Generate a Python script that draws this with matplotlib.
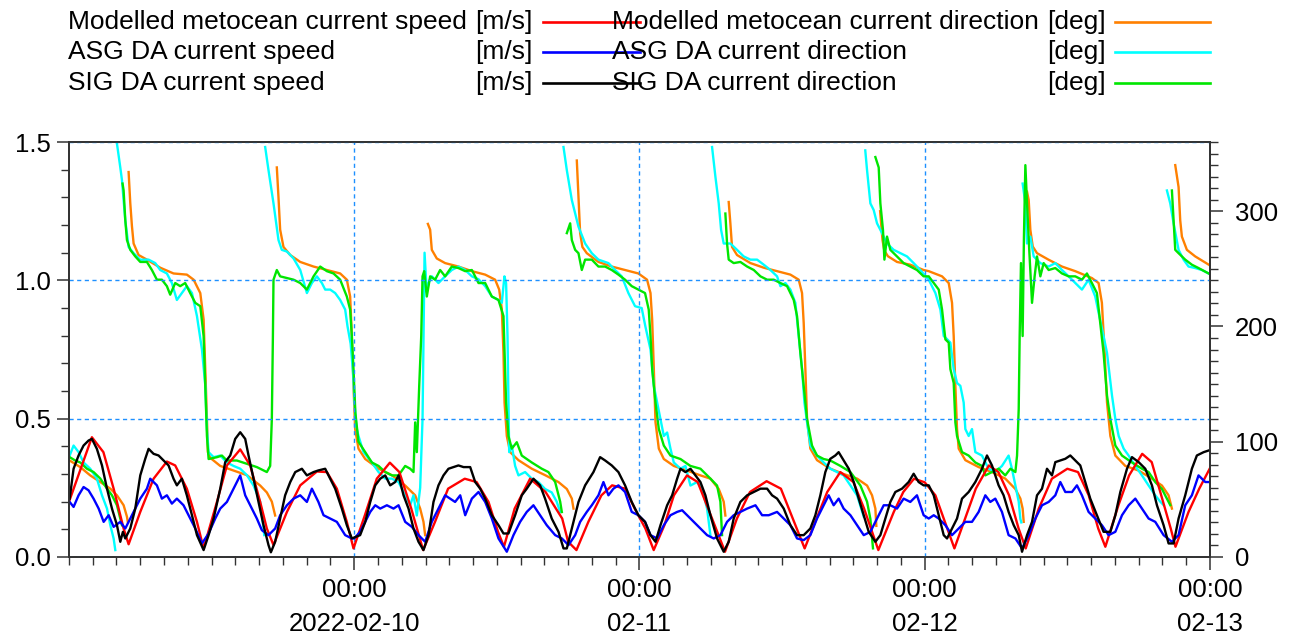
import numpy as np
import pandas as pd
import matplotlib
matplotlib.use("Agg")
import matplotlib.pyplot as plt
import matplotlib.dates as mdates
from matplotlib.lines import Line2D
from matplotlib.ticker import MultipleLocator

nan = np.nan
start = pd.Timestamp("2022-02-09 00:00")

# (hours after 2022-02-09 00:00, value); nan rows break the line where direction wraps
model_speed = [
    (0.05, 0.205), (1.93, 0.433), (2.9, 0.379), (3.76, 0.247), (4.6, 0.103), (5.02, 0.046), (6.0, 0.163),
    (7.12, 0.283), (8.24, 0.345), (8.94, 0.331), (9.92, 0.247), (10.77, 0.127), (11.33, 0.031), (12.45, 0.199),
    (13.29, 0.331), (14.41, 0.389), (15.25, 0.331), (16.09, 0.199), (16.65, 0.103), (17.21, 0.043), (18.34, 0.163),
    (19.46, 0.259), (20.86, 0.309), (21.7, 0.307), (22.54, 0.247), (23.38, 0.127), (23.94, 0.031),
    (24.9, 0.151), (25.9, 0.283), (27.0, 0.341), (27.8, 0.307), (28.8, 0.175), (29.8, 0.025), (30.8, 0.127),
    (31.9, 0.247), (33.3, 0.283), (34.3, 0.271), (35.3, 0.199), (36.1, 0.091), (36.6, 0.037), (37.5, 0.175),
    (38.8, 0.283), (40.1, 0.235), (41.5, 0.139), (42.0, 0.055), (42.7, 0.025), (43.7, 0.127), (44.8, 0.223),
    (45.7, 0.259), (46.8, 0.247), (47.6, 0.175), (48.5, 0.103),
    (49.2, 0.025), (50.1, 0.115), (50.9, 0.223), (52.0, 0.295), (52.9, 0.271), (54.0, 0.151), (55.2, 0.019),
    (56.2, 0.139), (57.3, 0.235), (58.7, 0.274), (59.9, 0.247), (60.9, 0.139), (61.9, 0.031), (62.9, 0.139),
    (63.8, 0.235), (64.9, 0.307), (66.0, 0.271), (66.9, 0.175), (68.1, 0.025), (69.4, 0.163), (70.2, 0.235),
    (71.1, 0.283),
    (72.0, 0.27), (72.9, 0.223), (73.7, 0.127), (74.5, 0.031), (75.4, 0.139), (76.3, 0.247), (77.4, 0.331),
    (78.2, 0.307), (79.1, 0.223), (79.9, 0.103), (80.5, 0.031), (81.6, 0.175), (82.7, 0.283), (84.0, 0.319),
    (84.9, 0.307), (85.8, 0.223), (86.6, 0.103), (87.2, 0.037), (88.3, 0.187), (89.2, 0.295), (90.3, 0.373),
    (91.1, 0.343), (91.9, 0.223), (92.7, 0.103), (93.1, 0.037), (94.2, 0.163), (95.1, 0.247), (96.0, 0.321),
]

asg_speed = [
    (0.06, 0.199), (0.39, 0.181), (0.81, 0.223), (1.23, 0.253), (1.65, 0.241), (2.07, 0.211), (2.5, 0.175),
    (2.92, 0.127), (3.34, 0.151), (3.76, 0.109), (4.32, 0.127), (4.74, 0.103), (5.3, 0.151), (6.0, 0.211),
    (6.56, 0.247), (6.84, 0.283), (7.4, 0.259), (7.82, 0.211), (8.24, 0.223), (8.66, 0.193), (9.08, 0.211),
    (9.64, 0.187), (10.06, 0.151), (10.63, 0.103), (11.19, 0.049), (11.75, 0.085), (12.31, 0.139), (12.73, 0.175),
    (13.29, 0.199), (13.85, 0.247), (14.41, 0.295), (14.83, 0.223), (15.25, 0.187), (15.81, 0.139), (16.23, 0.097),
    (16.79, 0.079), (17.35, 0.103), (17.77, 0.151), (18.34, 0.187), (18.9, 0.211), (19.46, 0.223), (20.02, 0.199),
    (20.44, 0.247), (20.99, 0.199), (21.42, 0.151), (21.98, 0.139), (22.54, 0.127), (23.24, 0.079), (23.8, 0.067),
    (24.0, 0.067), (24.5, 0.091), (24.93, 0.127), (25.35, 0.163), (25.77, 0.187), (26.19, 0.175), (26.75, 0.187),
    (27.31, 0.175), (27.73, 0.187), (28.29, 0.127), (28.85, 0.109), (29.41, 0.079), (29.97, 0.055), (30.53, 0.127),
    (31.09, 0.175), (31.65, 0.223), (32.07, 0.211), (32.49, 0.199), (32.92, 0.223), (33.34, 0.151), (33.9, 0.211),
    (34.46, 0.235), (35.02, 0.199), (35.58, 0.139), (36.14, 0.067), (36.84, 0.019), (37.4, 0.079), (37.96, 0.127),
    (38.52, 0.163), (39.08, 0.187), (39.64, 0.151), (40.2, 0.115), (40.91, 0.079), (41.47, 0.067), (42.03, 0.043),
    (42.59, 0.079), (43.01, 0.127), (43.57, 0.163), (43.99, 0.187), (44.55, 0.223), (44.97, 0.271), (45.39, 0.223),
    (45.81, 0.247), (46.23, 0.259), (46.79, 0.235), (47.35, 0.163), (47.91, 0.151), (48.47, 0.127),
    (48.93, 0.079), (49.49, 0.067), (50.05, 0.115), (50.61, 0.151), (51.17, 0.163), (51.59, 0.169), (52.01, 0.151),
    (52.57, 0.127), (53.13, 0.103), (53.69, 0.079), (54.25, 0.067), (54.81, 0.079), (55.37, 0.127), (55.93, 0.151),
    (56.49, 0.163), (57.06, 0.175), (57.76, 0.187), (58.32, 0.151), (58.88, 0.151), (59.58, 0.163), (60.14, 0.139),
    (60.7, 0.115), (61.26, 0.067), (61.82, 0.061), (62.38, 0.079), (62.94, 0.139), (63.5, 0.187), (63.92, 0.223),
    (64.34, 0.187), (64.76, 0.211), (65.18, 0.175), (65.75, 0.151), (66.31, 0.115), (66.87, 0.079), (67.43, 0.091),
    (67.99, 0.139), (68.55, 0.187), (69.11, 0.187), (69.67, 0.175), (70.23, 0.211), (70.79, 0.199), (71.35, 0.223),
    (71.91, 0.151),
    (72.34, 0.139), (72.76, 0.151), (73.18, 0.139), (73.74, 0.115), (74.3, 0.079), (74.86, 0.103), (75.42, 0.127),
    (75.98, 0.127), (76.54, 0.163), (77.1, 0.223), (77.52, 0.199), (77.94, 0.211), (78.5, 0.163), (79.06, 0.079),
    (79.63, 0.067), (80.19, 0.031), (80.75, 0.079), (81.31, 0.139), (81.87, 0.187), (82.43, 0.199), (82.99, 0.223),
    (83.41, 0.271), (83.83, 0.235), (84.39, 0.235), (84.81, 0.259), (85.23, 0.223), (85.79, 0.163), (86.35, 0.139),
    (86.91, 0.115), (87.47, 0.079), (88.04, 0.091), (88.6, 0.151), (89.16, 0.187), (89.72, 0.211), (90.28, 0.175),
    (90.84, 0.139), (91.4, 0.127), (92.1, 0.079), (92.8, 0.055), (93.36, 0.079), (93.92, 0.187), (94.48, 0.223),
    (95.04, 0.295), (95.61, 0.271), (95.89, 0.271),
]

sig_speed = [
    (0.06, 0.211), (0.39, 0.319), (0.81, 0.367), (1.23, 0.403), (1.65, 0.421), (1.93, 0.427), (2.35, 0.391),
    (2.78, 0.331), (3.2, 0.247), (3.62, 0.175), (4.04, 0.115), (4.32, 0.055), (4.54, 0.091), (4.74, 0.067),
    (5.16, 0.103), (5.58, 0.175), (6.0, 0.295), (6.42, 0.355), (6.7, 0.391), (7.12, 0.373), (7.54, 0.367),
    (7.96, 0.349), (8.38, 0.331), (8.8, 0.283), (9.08, 0.259), (9.5, 0.283), (9.92, 0.223), (10.35, 0.151),
    (10.77, 0.079), (11.33, 0.025), (11.75, 0.079), (12.17, 0.139), (12.73, 0.247), (13.15, 0.343), (13.57, 0.367),
    (13.99, 0.427), (14.41, 0.451), (14.83, 0.427), (15.11, 0.367), (15.53, 0.283), (15.95, 0.199), (16.37, 0.115),
    (16.79, 0.043), (16.99, 0.017), (17.35, 0.055), (17.77, 0.139), (18.19, 0.223), (18.62, 0.271), (19.04, 0.307),
    (19.6, 0.319), (20.02, 0.295), (20.58, 0.307), (20.99, 0.313), (21.56, 0.319), (21.98, 0.283), (22.4, 0.247),
    (22.96, 0.175), (23.38, 0.115), (23.8, 0.067),
    (24.5, 0.079), (24.93, 0.127), (25.35, 0.199), (25.77, 0.259), (26.19, 0.283), (26.61, 0.295), (27.03, 0.259),
    (27.45, 0.271), (27.73, 0.295), (28.15, 0.223), (28.57, 0.175), (28.99, 0.103), (29.41, 0.055), (29.83, 0.025),
    (30.25, 0.079), (30.67, 0.199), (31.09, 0.259), (31.51, 0.295), (31.93, 0.319), (32.35, 0.325), (32.77, 0.331),
    (33.2, 0.325), (33.76, 0.325), (34.18, 0.271), (34.6, 0.247), (35.02, 0.211), (35.58, 0.151), (36.14, 0.115),
    (36.56, 0.085), (36.98, 0.085), (37.54, 0.151), (38.1, 0.223), (38.52, 0.247), (39.08, 0.283), (39.64, 0.259),
    (40.06, 0.211), (40.62, 0.139), (41.19, 0.091), (41.61, 0.031), (41.89, 0.031), (42.31, 0.103), (42.87, 0.199),
    (43.43, 0.259), (44.13, 0.307), (44.69, 0.361), (45.11, 0.349), (45.67, 0.331), (46.23, 0.307), (46.79, 0.259),
    (47.35, 0.199), (47.91, 0.151), (48.47, 0.127),
    (48.93, 0.079), (49.35, 0.055), (49.77, 0.115), (50.33, 0.187), (50.75, 0.223), (51.17, 0.283), (51.45, 0.319),
    (51.87, 0.307), (52.29, 0.319), (52.71, 0.295), (53.13, 0.271), (53.55, 0.223), (53.97, 0.151), (54.53, 0.067),
    (55.09, 0.019), (55.51, 0.055), (55.93, 0.139), (56.49, 0.199), (57.06, 0.223), (57.62, 0.235), (58.18, 0.247),
    (58.74, 0.247), (59.16, 0.223), (59.58, 0.211), (60.14, 0.175), (60.7, 0.115), (61.26, 0.079), (61.82, 0.079),
    (62.38, 0.103), (62.8, 0.151), (63.22, 0.223), (63.64, 0.307), (64.06, 0.355), (64.48, 0.367), (64.76, 0.379),
    (65.18, 0.349), (65.61, 0.319), (66.03, 0.271), (66.45, 0.211), (66.87, 0.151), (67.29, 0.091), (67.85, 0.055),
    (68.27, 0.079), (68.69, 0.139), (69.11, 0.199), (69.53, 0.235), (70.09, 0.247), (70.65, 0.271), (71.07, 0.301),
    (71.49, 0.271), (71.91, 0.259),
    (72.34, 0.259), (72.76, 0.223), (73.18, 0.151), (73.6, 0.079), (73.88, 0.067), (74.3, 0.103), (74.72, 0.139),
    (75.14, 0.211), (75.7, 0.235), (76.26, 0.271), (76.82, 0.319), (77.24, 0.367), (77.66, 0.331), (78.22, 0.259),
    (78.64, 0.223), (79.06, 0.163), (79.49, 0.115), (79.91, 0.079), (80.19, 0.019), (80.61, 0.079), (81.03, 0.127),
    (81.45, 0.223), (81.87, 0.247), (82.29, 0.319), (82.71, 0.295), (82.99, 0.343), (83.41, 0.349), (83.83, 0.355),
    (84.25, 0.367), (84.67, 0.349), (85.09, 0.331), (85.51, 0.271), (85.93, 0.211), (86.49, 0.151), (87.05, 0.091),
    (87.62, 0.091), (88.04, 0.151), (88.46, 0.235), (89.02, 0.319), (89.44, 0.361), (90.0, 0.343), (90.56, 0.319),
    (91.12, 0.259), (91.54, 0.187), (92.1, 0.115), (92.52, 0.049), (92.94, 0.049), (93.36, 0.139), (93.92, 0.223),
    (94.48, 0.319), (94.9, 0.367), (95.47, 0.379), (95.89, 0.385),
]

model_dir = [
    (0.06, 83.7), (0.95, 78), (1.79, 70.8), (2.64, 65), (3.48, 59.3), (4.04, 53.5), (4.6, 44.9), (4.88, 35), (4.96, 30),
    (4.99, nan),
    (5.02, 334), (5.16, 307), (5.3, 287), (5.44, 272), (5.86, 262), (6.56, 258), (7.68, 251), (8.8, 246), (9.92, 245),
    (10.49, 240.6), (11.05, 229), (11.33, 206), (11.47, 163), (11.61, 120), (11.69, 91), (11.89, 86), (12.73, 79),
    (13.85, 75), (14.97, 71), (16.09, 62), (16.65, 56), (17.07, 48), (17.35, 36),
    (17.42, nan),
    (17.49, 338), (17.63, 312), (17.77, 284), (18.05, 269), (18.62, 262), (19.46, 256), (20.58, 252), (21.7, 249),
    (22.82, 246), (23.38, 240.6), (23.66, 226), (23.8, 192), (23.94, 149), (24.08, 111), (24.36, 94), (24.93, 85),
    (26.05, 76.6), (27.17, 71), (28.29, 62), (29.13, 53.5), (29.55, 42), (29.83, 30.5), (29.97, 19),
    (30.1, nan),
    (30.2, 289), (30.39, 284), (30.53, 266.5), (30.95, 259), (31.65, 255), (32.77, 252), (33.9, 248), (35.02, 245),
    (35.86, 240.6), (36.2, 232), (36.42, 215), (36.56, 177), (36.65, 134), (36.84, 105), (37.12, 91), (37.82, 84),
    (38.94, 76.6), (40.06, 71), (41.19, 65), (41.89, 59), (42.31, 50.7), (42.45, 42),
    (42.6, nan),
    (42.73, 344), (42.87, 312.5), (43.01, 281), (43.2, 269), (43.57, 263.6), (44.55, 256), (45.67, 252), (46.79, 249),
    (47.91, 246), (48.64, 240.6), (48.93, 229), (49.07, 206), (49.21, 163), (49.35, 117), (49.63, 94), (50.05, 85),
    (50.89, 79), (52.01, 75), (53.13, 70.8), (53.97, 68), (54.67, 59), (55.09, 48), (55.23, 36),
    (55.4, nan),
    (55.51, 308), (55.65, 289.5), (55.79, 269), (56.21, 262), (57.34, 255), (58.46, 251), (59.58, 248), (60.7, 245),
    (61.4, 240.6), (61.68, 229), (61.82, 203), (61.96, 163), (62.1, 120), (62.38, 94), (62.94, 84), (64.06, 76.6),
    (65.18, 72), (66.31, 68), (67.15, 62), (67.57, 53.5), (67.85, 42), (67.93, 27),
    (68.1, nan),
    (68.25, 300), (68.45, 275), (68.6, 266), (68.9, 261), (69.67, 256), (70.79, 253.6), (71.91, 249), (72.34, 248),
    (73.46, 243.5), (74.02, 237.7), (74.3, 220.5), (74.44, 191.7), (74.58, 148.5), (74.72, 111), (74.86, 94),
    (75.42, 84), (76.54, 78), (77.66, 73.7), (78.78, 68), (79.63, 59), (80.05, 50.7), (80.24, 42), (80.33, 30.5),
    (80.5, nan),
    (80.61, 317), (80.75, 309.7), (80.89, 283.8), (81.09, 269.4), (81.45, 263.6), (82.43, 257.9), (83.55, 252),
    (84.67, 248), (86.07, 242), (86.63, 237.7), (86.91, 220.5), (87.14, 177), (87.34, 134), (87.62, 105), (88.04, 88),
    (88.88, 79), (90.0, 75), (91.12, 68), (91.96, 62), (92.52, 53.5), (92.8, 42),
    (92.95, nan),
    (93.08, 340), (93.36, 321), (93.5, 292), (93.64, 278), (94.06, 266.5), (94.76, 260.8), (95.89, 253.6), (96.0, 253),
]

asg_dir = [
    (0.06, 88), (0.39, 96.7), (0.81, 91), (1.23, 82), (1.79, 76.6), (2.35, 68), (2.78, 53.5), (3.2, 42), (3.48, 27.6),
    (3.76, 16), (3.9, 6),
    (3.97, nan),
    (4.04, 358.6), (4.32, 338), (4.46, 327), (4.74, 292), (5.02, 269), (5.44, 263.6), (6.0, 257.9), (6.7, 258),
    (7.26, 255), (7.68, 249), (8.24, 246), (8.66, 237.7), (9.08, 223), (9.5, 229), (9.92, 235), (10.35, 229),
    (10.77, 209), (11.19, 180), (11.47, 149), (11.61, 111), (11.75, 91), (12.17, 86.6), (12.73, 88), (13.29, 82),
    (13.85, 79), (14.41, 76.6), (14.97, 71), (15.53, 62), (16.09, 48), (16.37, 24.8), (16.43, 19),
    (16.47, nan),
    (16.51, 355.7), (16.79, 335.6), (17.21, 306.8), (17.63, 275), (17.91, 266.5), (18.34, 265), (18.9, 259),
    (19.46, 249), (20.02, 229), (20.44, 237.7), (20.86, 243.5), (21.28, 237.7), (21.56, 232), (21.98, 232),
    (22.4, 229), (22.82, 223), (23.24, 214.7), (23.44, 200), (23.7, 185), (23.9, 160), (24.05, 130), (24.2, 112),
    (24.36, 105), (24.78, 91), (25.49, 82), (26.05, 73.7), (26.61, 68), (27.17, 68), (27.73, 65), (28.29, 53.5),
    (28.71, 45), (28.99, 53.5), (29.27, 36), (29.55, 60), (29.75, 120), (29.92, 264), (30.1, 230), (30.25, 237.7),
    (30.53, 243.5), (31.09, 237.7), (31.65, 243.5), (32.21, 249), (32.77, 252), (33.34, 249), (33.9, 243.5),
    (34.46, 241), (35.02, 235), (35.58, 226), (36.14, 223), (36.42, 220.5), (36.64, 243.5), (36.78, 237.7),
    (36.9, 191.7), (36.98, 134), (37.04, 91), (37.26, 96.7), (37.54, 79), (37.82, 70.8), (38.38, 73.7), (38.94, 68),
    (39.5, 65), (40.06, 59), (40.62, 56), (41.04, 48), (41.33, 39),
    (41.47, nan),
    (41.61, 355.7), (41.89, 335.6), (42.31, 309.7), (42.59, 298), (42.87, 286.6), (43.43, 272), (43.99, 263.6),
    (44.55, 258), (45.39, 255), (45.95, 249), (46.51, 243.5), (47.07, 229), (47.63, 217.6), (48.19, 216), (48.5, 200),
    (48.93, 180), (49.21, 148.5), (49.49, 134), (49.77, 119.7), (50.05, 105), (50.33, 108), (50.61, 94), (50.89, 82),
    (51.45, 76.6), (51.87, 79), (52.29, 62), (52.85, 65), (53.27, 59), (53.69, 42), (53.97, 19),
    (54.04, nan),
    (54.11, 355.7), (54.39, 330), (54.67, 306.8), (54.87, 283.8), (55.09, 272), (55.65, 272), (56.21, 266.5),
    (56.77, 260.8), (57.34, 258), (57.9, 258), (58.46, 253.6), (59.02, 249), (59.58, 243.5), (59.86, 235),
    (60.28, 237.7), (60.7, 232), (61.12, 220.5), (61.4, 191.7), (61.68, 163), (61.88, 134), (62.1, 117), (62.38, 96.7),
    (62.94, 88), (63.5, 82), (64.06, 76.6), (64.62, 73.7), (65.18, 70.8), (65.75, 62), (66.31, 53.5), (66.87, 35),
    (66.94, nan),
    (67.0, 352.8), (67.15, 335.6), (67.43, 306.8), (67.71, 301), (67.99, 289.5), (68.41, 281), (68.83, 272),
    (69.39, 266.5), (69.95, 263.6), (70.51, 260.8), (71.07, 255), (71.63, 249), (72.34, 240.6), (72.9, 229),
    (73.32, 214.7), (73.6, 191.7), (73.88, 189), (74.16, 186), (74.44, 163), (74.72, 151), (75.0, 148.5),
    (75.28, 134), (75.42, 111), (75.7, 105), (75.98, 111), (76.26, 91), (76.82, 88), (77.38, 76.6), (77.94, 73.7),
    (78.5, 79), (79.06, 88), (79.34, 76.6), (79.63, 62), (79.91, 48), (80.05, 33), (80.13, 30),
    (80.18, nan),
    (80.24, 324), (80.47, 306.8), (80.61, 272), (80.89, 278), (81.17, 260.8), (81.73, 255), (82.43, 252), (82.99, 255),
    (83.55, 249), (84.11, 243.5), (84.67, 237.7), (85.23, 232), (85.79, 240.6), (86.35, 226), (86.63, 212),
    (87.05, 191.7), (87.34, 177), (87.76, 140), (88.04, 119.7), (88.32, 105), (88.74, 94), (89.16, 88), (89.72, 79),
    (90.28, 70.8), (90.84, 62), (91.4, 53.5), (91.82, 48), (92.1, 45),
    (92.25, nan),
    (92.38, 318), (92.66, 306.8), (92.94, 289.5), (93.36, 266.5), (93.78, 258), (94.2, 252), (94.76, 250.7),
    (95.32, 249), (95.89, 246),
]

sig_dir = [
    (0.06, 86.6), (0.53, 83.7), (0.95, 82), (1.51, 76.6), (2.07, 73.7), (2.64, 68), (3.2, 59.3), (3.62, 53.5),
    (4.04, 44.9), (4.32, 33.4), (4.46, 27.6),
    (4.48, nan),
    (4.51, 324), (4.6, 318), (4.74, 292.4), (4.88, 275), (5.16, 266.5), (5.58, 260.8), (6.0, 256), (6.56, 256),
    (6.98, 249), (7.4, 240.6), (7.82, 240.6), (8.24, 235), (8.52, 227.6), (8.94, 237.7), (9.36, 235), (9.78, 237.7),
    (10.2, 229), (10.63, 220.5), (11.05, 217.6), (11.33, 191.7), (11.47, 148.5), (11.61, 105), (11.75, 85),
    (12.45, 86.6), (12.87, 88), (13.29, 83.7), (14.13, 83.7), (14.97, 80.9), (15.81, 78), (16.65, 73.7), (16.93, 79),
    (17.07, 119.7), (17.16, 191.7), (17.21, 240.6), (17.49, 249), (17.77, 243.5), (18.34, 242), (18.9, 240.6),
    (19.46, 237.7), (20.02, 232), (20.58, 243.5), (21.14, 252), (21.7, 248), (22.26, 246), (22.82, 240.6),
    (23.38, 226), (23.66, 214.7), (23.8, 191.7), (23.94, 163), (24.1, 125), (24.36, 100), (24.93, 91), (25.49, 82),
    (26.05, 79), (26.61, 73.7), (27.17, 70.8), (27.73, 70.8), (28.29, 79), (28.71, 76.6), (28.99, 73.7),
    (29.13, 116.8), (29.27, 91), (29.47, 148.5), (29.64, 191.7), (29.75, 243.5), (29.89, 248), (30.11, 226),
    (30.39, 243.5), (30.81, 240.6), (31.23, 249), (31.65, 243.5), (32.21, 252), (32.77, 250.7), (33.34, 248),
    (33.9, 249), (34.46, 237.7), (35.02, 237.7), (35.58, 226), (36.14, 223), (36.56, 209), (36.7, 163), (36.78, 134),
    (36.98, 105), (37.26, 94), (37.68, 99.6), (38.1, 88), (38.94, 82), (39.78, 76.6), (40.34, 73.7), (40.91, 65),
    (41.33, 48), (41.47, 39),
    (41.7, nan),
    (41.89, 281), (42.17, 289.5), (42.31, 275), (42.59, 266.5), (42.87, 263.6), (43.15, 249), (43.43, 258),
    (43.99, 258), (44.55, 252), (45.11, 252), (45.67, 249), (46.23, 245), (46.79, 240.6), (47.35, 235), (47.91, 232),
    (48.47, 229), (48.78, 214.7), (48.93, 191.7), (49.07, 163), (49.35, 134), (49.63, 111), (50.05, 96.7),
    (50.61, 88), (51.45, 85), (52.29, 79), (53.13, 76.6), (53.97, 68), (54.53, 62), (54.81, 48), (54.95, 19),
    (55.1, nan),
    (55.23, 298), (55.37, 272), (55.51, 258), (55.93, 255), (56.49, 256), (57.06, 252), (57.62, 249), (58.18, 243.5),
    (58.74, 240.6), (59.3, 240.6), (59.86, 237.7), (60.42, 235), (60.98, 223), (61.26, 209), (61.54, 177),
    (61.82, 148.5), (62.1, 119.7), (62.52, 96.7), (62.94, 88), (63.5, 85), (64.06, 83.7), (64.91, 79), (65.75, 73.7),
    (66.59, 62), (67.15, 48), (67.43, 33), (67.65, 7.5),
    (67.75, nan),
    (67.85, 347), (68.13, 338), (68.27, 306.8), (68.49, 283.8), (68.61, 258), (68.83, 278), (69.11, 266.5),
    (69.67, 260.8), (70.23, 255), (70.79, 252), (71.35, 249), (71.91, 243.5), (72.34, 243.5), (72.76, 237.7),
    (73.18, 232), (73.46, 214.7), (73.74, 188.8), (74.02, 186), (74.16, 163), (74.44, 151), (74.58, 116.8),
    (74.72, 105), (75.14, 91), (75.7, 88), (76.26, 82), (76.82, 79), (77.1, 70.8), (77.66, 73.7), (78.22, 76.6),
    (78.78, 70.8), (79.21, 76.6), (79.63, 73.7), (79.77, 88), (79.91, 128.4), (79.99, 191.7), (80.1, 255),
    (80.24, 191.7), (80.35, 278), (80.47, 340), (80.61, 306.8), (80.81, 263.6), (81.03, 220.5), (81.25, 243.5),
    (81.45, 260.8), (81.73, 243.5), (82.01, 255), (82.43, 249), (82.99, 250.7), (83.55, 246), (84.11, 243.5),
    (84.67, 243.5), (85.23, 240.6), (85.65, 246), (86.07, 237.7), (86.49, 229), (86.77, 203), (87.05, 177),
    (87.34, 140), (87.62, 119.7), (88.04, 96.7), (88.6, 88), (89.44, 82), (90.28, 76.6), (90.84, 73.7), (91.4, 65),
    (91.96, 59), (92.38, 50.7), (92.66, 45),
    (92.73, nan),
    (92.8, 318), (92.94, 292.4), (93.08, 266.5), (93.36, 263.6), (93.92, 258), (94.48, 253.6), (95.04, 250.7),
    (95.89, 246),
]

speed_series = [
    ("Modelled metocean current speed", model_speed, "#ff0000"),
    ("ASG DA current speed", asg_speed, "#0000ff"),
    ("SIG DA current speed", sig_speed, "#000000"),
]
dir_series = [
    ("Modelled metocean current direction", model_dir, "#ff8000"),
    ("ASG DA current direction", asg_dir, "#00ffff"),
    ("SIG DA current direction", sig_dir, "#00e600"),
]

day_ticks = ["2022-02-10", "2022-02-11", "2022-02-12", "2022-02-13"]
day_labels = ["00:00\n2022-02-10", "00:00\n02-11", "00:00\n02-12", "00:00\n02-13"]


def to_xy(pairs):
    h = np.array([p[0] for p in pairs], dtype=float)
    v = np.array([p[1] for p in pairs], dtype=float)
    return start + pd.to_timedelta(h, unit="h"), v


plt.rcParams["font.family"] = ["Liberation Sans", "DejaVu Sans"]
fig = plt.figure(figsize=(12.96, 6.4), dpi=100)
ax = fig.add_axes([0.0532, 0.1297, 0.8804, 0.6483])
ax2 = ax.twinx()
ax.set_zorder(ax2.get_zorder() + 1)
ax.patch.set_visible(False)

for name, data, col in dir_series:
    t, v = to_xy(data)
    ax2.plot(t, v, color=col, lw=1.7)
for name, data, col in speed_series:
    t, v = to_xy(data)
    ax.plot(t, v, color=col, lw=1.7)

ax.set_xlim(start, start + pd.Timedelta(days=4))
ax.set_ylim(0, 1.5)
ax2.set_ylim(0, 360)

ax.yaxis.set_major_locator(MultipleLocator(0.5))
ax.yaxis.set_minor_locator(MultipleLocator(0.1))
ax.yaxis.set_major_formatter(matplotlib.ticker.FormatStrFormatter("%.1f"))
ax2.yaxis.set_major_locator(MultipleLocator(100))
ax2.yaxis.set_minor_locator(MultipleLocator(10))

ax.set_xticks(pd.to_datetime(day_ticks))
ax.set_xticklabels(day_labels)
ax.xaxis.set_minor_locator(mdates.HourLocator(byhour=range(0, 24, 2)))
for lbl in ax.get_xticklabels():
    lbl.set_linespacing(1.55)

edge = "#333333"
for a in (ax, ax2):
    for s in a.spines.values():
        s.set_color(edge)
        s.set_linewidth(1.3)
ax.tick_params(axis="both", which="major", direction="out", length=9, width=1.1, color=edge,
               labelsize=18.5, pad=4)
ax.tick_params(axis="both", which="minor", direction="out", length=5.5, width=1.0, color=edge)
ax.tick_params(axis="x", which="major", pad=6)
ax2.tick_params(axis="y", which="major", direction="out", length=9, width=1.1, color=edge,
                labelsize=18.5, pad=9)
ax2.tick_params(axis="y", which="minor", direction="out", length=5.5, width=1.0, color=edge)

ax.grid(True, which="major", color="#1e90ff", lw=1.0, linestyle=(0, (3, 2.5)))

# legend: two columns of name / unit / line sample
rows_y = [0.966, 0.918, 0.870]
for i, (name, data, col) in enumerate(speed_series):
    y = rows_y[i]
    fig.add_artist(Line2D([0.419, 0.494], [y, y], color=col, lw=1.9, transform=fig.transFigure))
    fig.text(0.0525, y, name, fontsize=19, va="center", ha="left")
    fig.text(0.411, y, "[m/s]", fontsize=19, va="center", ha="right")
for i, (name, data, col) in enumerate(dir_series):
    y = rows_y[i]
    fig.add_artist(Line2D([0.860, 0.934], [y, y], color=col, lw=1.9, transform=fig.transFigure))
    fig.text(0.472, y, name, fontsize=19, va="center", ha="left")
    fig.text(0.853, y, "[deg]", fontsize=19, va="center", ha="right")

fig.savefig("out.png", dpi=100)
